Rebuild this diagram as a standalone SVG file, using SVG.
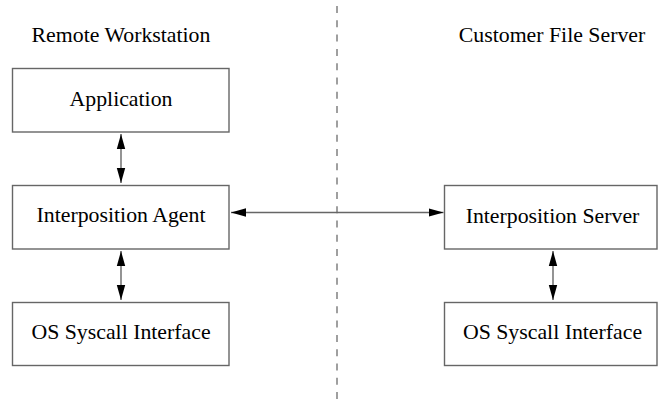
<svg xmlns="http://www.w3.org/2000/svg" width="658" height="402" viewBox="0 0 658 402">
<style>
.box{fill:#fff;stroke:#666;stroke-width:1.4}
.lbl{font-family:"Liberation Serif","Times New Roman",serif;font-size:21.8px;fill:#000;text-anchor:middle}
.conn{stroke:#666;stroke-width:1.4;fill:none}
.sep{stroke:#777;stroke-width:1.4;stroke-dasharray:7 7.3;fill:none}
</style>
<defs>
<marker id="ah" markerUnits="userSpaceOnUse" markerWidth="16" markerHeight="10" refX="15" refY="5" orient="auto-start-reverse">
<path d="M0,0.8 L15,5 L0,9.2 Z" fill="#000"/>
</marker>
</defs>
<g id="separator">
<line class="sep" x1="337" y1="6" x2="337" y2="402"/>
</g>
<g id="titles">
<text class="lbl" x="121" y="42">Remote Workstation</text>
<text class="lbl" x="552" y="42">Customer File Server</text>
</g>
<g id="node-application">
<rect class="box" x="12.5" y="68.5" width="216.5" height="63.5"/>
<text class="lbl" x="121" y="106">Application</text>
</g>
<g id="node-agent">
<rect class="box" x="12.5" y="185.5" width="216.5" height="63.5"/>
<text class="lbl" x="121" y="222">Interposition Agent</text>
</g>
<g id="node-os-left">
<rect class="box" x="12.5" y="302.5" width="216.5" height="63"/>
<text class="lbl" x="121" y="338.5">OS Syscall Interface</text>
</g>
<g id="node-server">
<rect class="box" x="444.5" y="185.5" width="212.5" height="63.5"/>
<text class="lbl" x="552.5" y="222.5">Interposition Server</text>
</g>
<g id="node-os-right">
<rect class="box" x="444.5" y="302.5" width="212.5" height="63"/>
<text class="lbl" x="552.5" y="338.5">OS Syscall Interface</text>
</g>
<g id="connectors">
<line class="conn" x1="121" y1="134" x2="121" y2="183" marker-start="url(#ah)" marker-end="url(#ah)"/>
<line class="conn" x1="121" y1="251" x2="121" y2="300" marker-start="url(#ah)" marker-end="url(#ah)"/>
<line class="conn" x1="231" y1="212.5" x2="443.5" y2="212.5" marker-start="url(#ah)" marker-end="url(#ah)"/>
<line class="conn" x1="553" y1="251" x2="553" y2="300" marker-start="url(#ah)" marker-end="url(#ah)"/>
</g>
</svg>
